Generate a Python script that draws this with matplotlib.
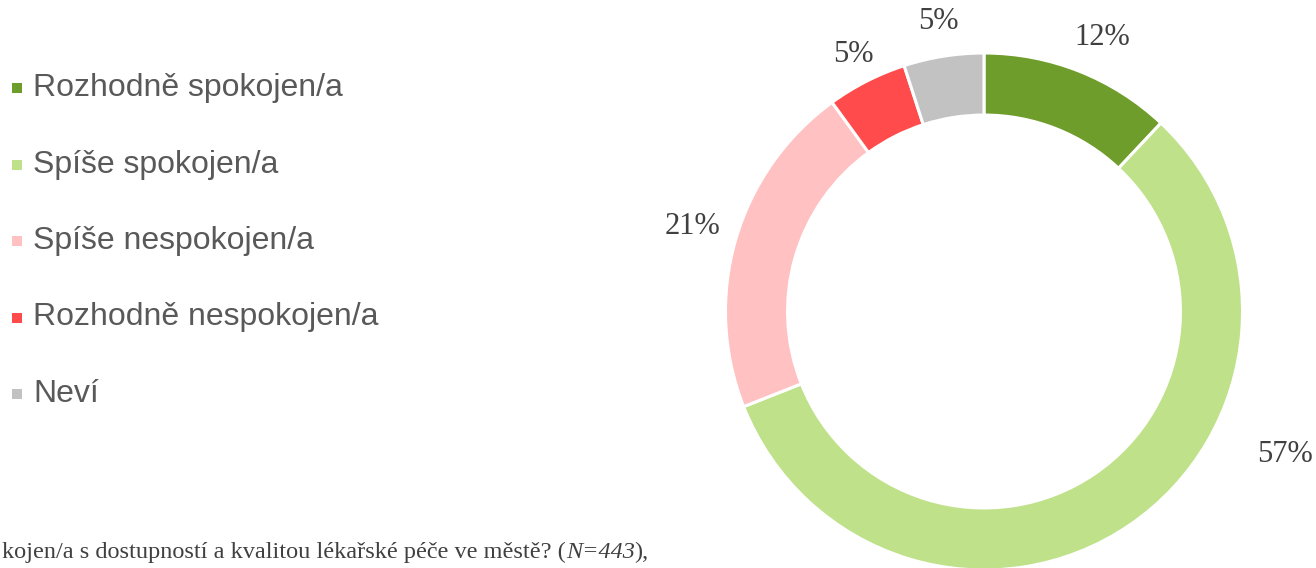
import numpy as np
from matplotlib import pyplot as plt

# data
categories = ['Rozhodně spokojen/a', 'Spíše spokojen/a', 'Spíše nespokojen/a',
              'Rozhodně nespokojen/a', 'Neví']
values = [12, 57, 21, 5, 5]
colors = ['#6f9d2b', '#bfe18a', '#ffc1c1', '#ff4b4b', '#c2c2c2']
note_plain = 'kojen/a s dostupností a kvalitou lékařské péče ve městě? ('
note_italic = 'N=443'
note_end = '),'

W, H = 1316, 568
fig = plt.figure(figsize=(W / 100, H / 100), dpi=100)
ax = fig.add_axes([0, 0, 1, 1])

# donut, in pixel units
cx, cy, R = 984, 568 - 311.5, 258.5
wedges, _ = ax.pie(values, colors=colors, startangle=90, counterclock=False,
                   radius=R, center=(cx, cy),
                   wedgeprops=dict(width=R * 0.24, edgecolor='white', linewidth=2.2))
ax.set_xlim(0, W)
ax.set_ylim(0, H)
ax.set_aspect('equal')
ax.axis('off')

# percentage labels outside the ring
label_r = [1.14, 1.14, 1.175, 1.115, 1.135]
start = 90.0
for i, v in enumerate(values):
    mid = start - v / sum(values) * 360 / 2
    start -= v / sum(values) * 360
    a = np.deg2rad(mid)
    x = cx + R * label_r[i] * np.cos(a)
    y = cy + R * label_r[i] * np.sin(a)
    if i == 0:
        x += 10
    if i == 1:  # Excel moves this one beside the ring
        x, y = 1285, 568 - 455
    ax.text(x, y, f'{v}%', ha='center', va='center', fontsize=22,
            family='Liberation Serif', color='#404040')

# legend
for i, lab in enumerate(categories):
    y = 568 - (88 + i * 76.5)
    ax.scatter([17], [y], marker='s', s=60, color=colors[i], linewidths=0)
    ax.text(33, y, lab, ha='left', va='center', fontsize=23,
            family='Liberation Sans', color='#595959')

# footnote (cut off on the left like the source)
fig.canvas.draw()
r = fig.canvas.get_renderer()
x0 = 2
parts = [(note_plain, 'normal'), (note_italic, 'italic'), (note_end, 'normal')]
for txt, st in parts:
    t = ax.text(x0, 568 - 552, txt, ha='left', va='center', fontsize=17.5,
                family='Liberation Serif', style=st, color='#404040')
    x0 += t.get_window_extent(r).width

fig.savefig('out.png', dpi=100)
